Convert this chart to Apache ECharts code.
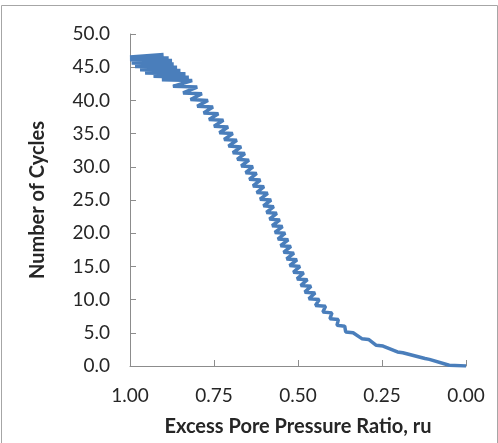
<!DOCTYPE html>
<html>
<head>
<meta charset="utf-8">
<script src="https://cdn.jsdelivr.net/npm/echarts@6/dist/echarts.min.js"></script>
<style>
html,body{margin:0;padding:0;background:#fff;overflow:hidden;}
#chart{width:498px;height:443px;}
</style>
</head>
<body>
<div id="chart"></div>
<script>
var cycleN = [
  0.00, 0.12,
  1.00, 1.12,
  2.00, 2.12,
  3.00, 3.12,
  4.00, 4.12,
  5.00, 5.12,
  6.00, 6.12,
  7.00, 7.12,
  8.00, 8.12,
  9.00, 9.12,
  10.00, 10.12,
  11.00, 11.12,
  12.00, 12.12,
  13.00, 13.12,
  14.00, 14.12,
  15.00, 15.12,
  16.00, 16.12,
  17.00, 17.12,
  18.00, 18.12,
  19.00, 19.12,
  20.00, 20.12,
  21.00, 21.12,
  22.00, 22.12,
  23.00, 23.12,
  24.00, 24.12,
  25.00, 25.12,
  26.00, 26.12,
  27.00, 27.12,
  28.00, 28.12,
  29.00, 29.12,
  30.00, 30.12,
  31.00, 31.12,
  32.00, 32.12,
  33.00, 33.12,
  34.00, 34.12,
  35.00, 35.12,
  36.00, 36.12,
  37.00, 37.12,
  38.00, 38.12,
  39.00, 39.12,
  40.00, 40.12,
  41.00, 41.12,
  42.00, 42.12,
  43.00, 43.12,
  43.50, 43.62,
  44.00, 44.12,
  44.50, 44.62,
  45.00, 45.12,
  45.50, 45.62,
  46.00, 46.12,
  46.40, 46.52,
  46.90
];
var ruValues = [
  0.000, 0.050,
  0.109, 0.122,
  0.188, 0.204,
  0.247, 0.267,
  0.290, 0.310,
  0.336, 0.358,
  0.361, 0.384,
  0.380, 0.405,
  0.399, 0.426,
  0.418, 0.448,
  0.437, 0.468,
  0.449, 0.480,
  0.461, 0.492,
  0.472, 0.503,
  0.483, 0.514,
  0.494, 0.525,
  0.503, 0.534,
  0.512, 0.543,
  0.521, 0.552,
  0.529, 0.560,
  0.538, 0.569,
  0.546, 0.577,
  0.554, 0.585,
  0.563, 0.594,
  0.572, 0.603,
  0.580, 0.613,
  0.590, 0.623,
  0.601, 0.634,
  0.612, 0.645,
  0.623, 0.656,
  0.634, 0.669,
  0.646, 0.681,
  0.658, 0.694,
  0.669, 0.707,
  0.682, 0.720,
  0.694, 0.734,
  0.708, 0.750,
  0.722, 0.765,
  0.737, 0.781,
  0.753, 0.800,
  0.768, 0.820,
  0.786, 0.842,
  0.800, 0.872,
  0.815, 0.905,
  0.825, 0.930,
  0.835, 0.955,
  0.850, 0.970,
  0.860, 0.985,
  0.870, 0.995,
  0.875, 1.000,
  0.885, 1.000,
  0.900
];
var xTicks = {min: 0, max: 1, step: 0.25};
var yTicks = {min: 0, max: 50, step: 5};
var xTitle = 'Excess Pore Pressure Ratio, ru';
var yTitle = 'Number of Cycles';

var points = cycleN.map(function (n, i) { return [ruValues[i], n]; });

var font = 'Lato, "Liberation Sans", sans-serif';
var axisColor = '#8c8c8c';
var textColor = '#262626';

var el = document.getElementById('chart');
var chart = echarts.init(el, null, {renderer: 'canvas'});
chart.setOption({
  animation: false,
  backgroundColor: '#fff',
  graphic: [{
    type: 'rect',
    shape: {x: 1.5, y: 5.5, width: 496, height: 445},
    style: {fill: 'none', stroke: '#a6a6a6', lineWidth: 1},
    silent: true
  }],
  grid: {left: 130, right: 32, top: 34, bottom: 77, containLabel: false, outerBoundsMode: 'none'},
  xAxis: {
    type: 'value',
    inverse: true,
    min: xTicks.min, max: xTicks.max, interval: xTicks.step,
    name: xTitle,
    nameLocation: 'middle',
    nameGap: 51,
    nameTextStyle: {fontFamily: font, fontSize: 20, fontWeight: 'bold', color: textColor},
    axisLine: {show: true, onZero: false, lineStyle: {color: axisColor, width: 1}},
    axisTick: {show: true, inside: true, length: 6, lineStyle: {color: axisColor}},
    axisLabel: {fontFamily: font, fontSize: 19, color: textColor, margin: 20,
      formatter: function (v) { return v.toFixed(2); }},
    splitLine: {show: false}
  },
  yAxis: {
    type: 'value',
    min: yTicks.min, max: yTicks.max, interval: yTicks.step,
    name: yTitle,
    nameLocation: 'middle',
    nameGap: 82,
    nameRotate: 90,
    nameTextStyle: {fontFamily: font, fontSize: 20, fontWeight: 'bold', color: textColor},
    axisLine: {show: true, onZero: false, lineStyle: {color: axisColor, width: 1}},
    axisTick: {show: true, inside: true, length: 6, lineStyle: {color: axisColor}},
    axisLabel: {fontFamily: font, fontSize: 19, color: textColor, margin: 20,
      formatter: function (v) { return v.toFixed(1); }},
    splitLine: {show: false}
  },
  series: [{
    type: 'line',
    data: points,
    showSymbol: false,
    smooth: false,
    lineStyle: {color: '#4a7ebb', width: 3.5},
    itemStyle: {color: '#4a7ebb'},
    clip: true
  }]
});
</script>
</body>
</html>
